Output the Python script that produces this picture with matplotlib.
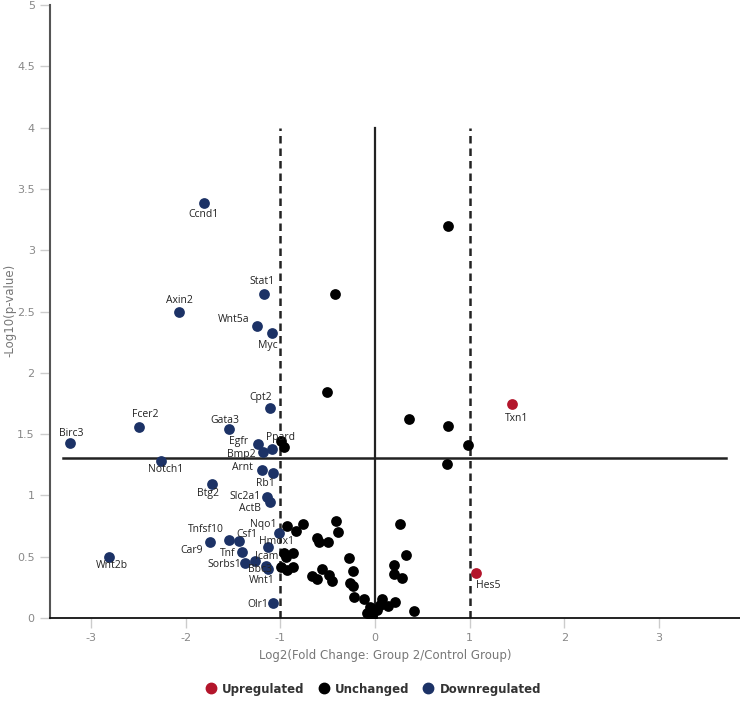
import matplotlib
matplotlib.use("Agg")
import matplotlib.pyplot as plt
from matplotlib.lines import Line2D

plt.rcParams['axes.unicode_minus'] = False

# ---------------- data ----------------
down_genes = ["Ccnd1", "Axin2", "Stat1", "Wnt5a", "Myc", "Cpt2", "Gata3", "Fcer2", "Birc3",
              "Notch1", "Egfr", "Ppard", "Bmp2", "Arnt", "Rb1", "Btg2", "Slc2a1", "ActB",
              "Tnfsf10", "Car9", "Csf1", "Nqo1", "Hmox1", "Tnf", "Icam", "Sorbs1", "Bbc3",
              "Wnt1", "Olr1", "Wnt2b"]
down_fc = [-1.806, -2.070, -1.172, -1.246, -1.088, -1.109, -1.542, -2.492, -3.221,
           -2.260, -1.235, -1.088, -1.183, -1.193, -1.077, -1.721, -1.140, -1.109,
           -1.542, -1.742, -1.436, -1.014, -1.130, -1.404, -1.267, -1.373, -1.151,
           -1.130, -1.077, -2.809]
down_p = [3.385, 2.496, 2.643, 2.382, 2.325, 1.713, 1.542, 1.558, 1.427,
          1.281, 1.419, 1.378, 1.354, 1.207, 1.183, 1.093, 0.987, 0.946,
          0.636, 0.620, 0.628, 0.693, 0.579, 0.538, 0.465, 0.449, 0.424,
          0.400, 0.122, 0.498]

up_genes = ["Txn1", "Hes5"]
up_fc = [1.447, 1.067]
up_p = [1.745, 0.367]

unch_fc = [0.771, -0.422, -0.507, 0.359, 0.771, 0.982, 0.760, -0.993, -0.961,
           -0.929, -0.834, -0.760, -0.412, -0.391, -0.612, -0.591, -0.496,
           -0.961, -0.940, -0.866, -0.993, -0.929, -0.866, -0.665, -0.612,
           -0.560, -0.486, -0.454, -0.275, -0.232, -0.264, -0.232, -0.222,
           -0.116, -0.053, -0.084, -0.032, -0.032, 0.021, 0.053, 0.074, 0.137,
           0.211, 0.412, 0.327, 0.201, 0.201, 0.285, 0.264]
unch_p = [3.197, 2.643, 1.843, 1.623, 1.566, 1.411, 1.256, 1.444, 1.395,
          0.750, 0.710, 0.767, 0.791, 0.701, 0.653, 0.620, 0.620,
          0.530, 0.498, 0.530, 0.416, 0.392, 0.416, 0.343, 0.318,
          0.400, 0.351, 0.302, 0.489, 0.383, 0.285, 0.261, 0.171,
          0.155, 0.090, 0.041, 0.024, 0.005, 0.065, 0.106, 0.155, 0.098,
          0.131, 0.057, 0.514, 0.432, 0.359, 0.326, 0.767]

x_ticks = [-3, -2, -1, 0, 1, 2, 3]
y_ticks = [0, 0.5, 1, 1.5, 2, 2.5, 3, 3.5, 4, 4.5, 5]
y_tick_labels = ["0", "0.5", "1", "1.5", "2", "2.5", "3", "3.5", "4", "4.5", "5"]
fc_threshold = 1
p_threshold = 1.301

# label placement offsets (pixels, y up)
label_off = {
    "Ccnd1": (0, -12), "Axin2": (0, 11), "Stat1": (-2, 12), "Wnt5a": (-23, 6),
    "Myc": (-4, -13), "Cpt2": (-9, 10), "Gata3": (-4, 8), "Fcer2": (6, 12),
    "Birc3": (1, 10), "Notch1": (5, -9), "Egfr": (-19, 3), "Ppard": (9, 12),
    "Bmp2": (-22, -3), "Arnt": (-20, 3), "Rb1": (-8, -11), "Btg2": (-4, -10),
    "Slc2a1": (-22, 0), "ActB": (-20, -6), "Tnfsf10": (-23, 11), "Car9": (-18, -9),
    "Csf1": (8, 7), "Nqo1": (-16, 9), "Hmox1": (8, 6), "Tnf": (-14, -1),
    "Icam": (12, 4), "Sorbs1": (-21, -2), "Bbc3": (-6, -3), "Wnt1": (-6, -12),
    "Olr1": (-15, -1), "Wnt2b": (3, -9), "Txn1": (5, -14), "Hes5": (12, -12),
}

# ---------------- figure ----------------
W, H = 740, 703
fig = plt.figure(figsize=(W / 100, H / 100), dpi=100)
ax = fig.add_axes([50 / W, 1 - 618 / H, (W - 50) / W, (618 - 5) / H])

col_down = "#1c3266"
col_up = "#b3152b"
col_unch = "#000000"

ax.set_xlim(-3.432, 3.854)
ax.set_ylim(0, 5)

# threshold lines
ax.plot([-3.3, 3.71], [p_threshold, p_threshold], color="#222222", lw=1.8, zorder=1)
ax.plot([0, 0], [0, 4], color="#222222", lw=1.6, zorder=1)
for xv in (-fc_threshold, fc_threshold):
    ax.plot([xv, xv], [0, 4], color="#222222", lw=1.8, ls=(0, (3, 2)), zorder=1)

ms = 60
ax.scatter(down_fc, down_p, s=ms, color=col_down, zorder=3, linewidths=0)
ax.scatter(up_fc, up_p, s=ms, color=col_up, zorder=3, linewidths=0)
ax.scatter(unch_fc, unch_p, s=ms, color=col_unch, zorder=4, linewidths=0)

for g, xv, yv in list(zip(down_genes, down_fc, down_p)) + list(zip(up_genes, up_fc, up_p)):
    dx, dy = label_off.get(g, (0, 10))
    ax.annotate(g, (xv, yv), xytext=(dx, dy), textcoords="offset pixels",
                ha="center", va="center", fontsize=7.5, color="#222222",
                family="Open Sans", zorder=5)

# axes styling
for s in ("top", "right"):
    ax.spines[s].set_visible(False)
ax.spines["left"].set_color("#555555")
ax.spines["left"].set_linewidth(1.5)
ax.spines["bottom"].set_color("#111111")
ax.spines["bottom"].set_linewidth(1.3)

ax.set_xticks(x_ticks)
ax.set_xticklabels([str(t) for t in x_ticks])
ax.set_yticks(y_ticks)
ax.set_yticklabels(y_tick_labels)
ax.tick_params(axis="both", direction="out", length=7, width=1, color="#cccccc",
               labelcolor="#888888", labelsize=8)
ax.tick_params(axis="x", pad=4)
ax.tick_params(axis="y", pad=4)

fig.text(385 / W, 1 - 655 / H, "Log2(Fold Change: Group 2/Control Group)",
         ha="center", va="center", fontsize=8.5, color="#777777")
fig.text(10 / W, 1 - 310 / H, "-Log10(p-value)", rotation=90,
         ha="center", va="center", fontsize=8.5, color="#777777")

handles = [
    Line2D([], [], ls="none", marker="o", markersize=7.5, color=col_up, label="Upregulated"),
    Line2D([], [], ls="none", marker="o", markersize=7.5, color=col_unch, label="Unchanged"),
    Line2D([], [], ls="none", marker="o", markersize=7.5, color=col_down, label="Downregulated"),
]
leg = fig.legend(handles=handles, loc="center", bbox_to_anchor=(373 / W, 1 - 689 / H),
                 ncol=3, frameon=False, handletextpad=0.45, columnspacing=1.1,
                 handlelength=1.0, prop={"weight": "bold", "size": 8.5})
for t in leg.get_texts():
    t.set_color("#333333")

fig.savefig("out.png", dpi=100)
